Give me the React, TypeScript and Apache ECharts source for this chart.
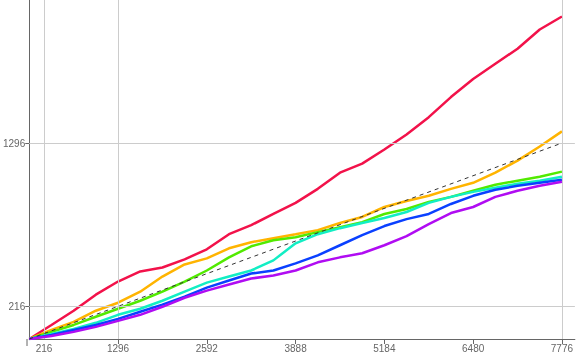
import React, { useEffect, useRef } from "react";
import * as echarts from "echarts";

const xs = [0, 324, 648, 972, 1296, 1620, 1944, 2268, 2592, 2916, 3240, 3564, 3888, 4212, 4536, 4860, 5184, 5508, 5832, 6156, 6480, 6804, 7128, 7452, 7776];

const red = [0, 93, 187, 293, 380, 447, 473, 527, 593, 693, 753, 827, 900, 993, 1100, 1160, 1253, 1353, 1467, 1600, 1720, 1820, 1920, 2047, 2133];
const orange = [0, 60, 113, 187, 240, 313, 413, 493, 533, 600, 640, 667, 693, 720, 767, 807, 873, 913, 947, 993, 1033, 1100, 1180, 1273, 1373];
const green = [0, 47, 93, 147, 200, 253, 313, 380, 453, 540, 613, 653, 673, 707, 740, 773, 827, 860, 907, 940, 980, 1020, 1047, 1073, 1107];
const cyan = [0, 33, 67, 107, 160, 200, 253, 313, 373, 413, 453, 520, 633, 693, 733, 767, 800, 840, 900, 940, 973, 1000, 1027, 1047, 1073];
const blue = [0, 27, 60, 93, 133, 180, 227, 280, 340, 387, 433, 453, 500, 553, 620, 687, 747, 793, 827, 893, 947, 987, 1013, 1033, 1053];
const purple = [0, 20, 47, 80, 120, 160, 213, 273, 320, 360, 400, 420, 453, 507, 540, 567, 620, 680, 760, 833, 873, 940, 980, 1013, 1040];

const expectedLine = [[0, 0], [7776, 1296]];

const xTickLabels = [216, 1296, 2592, 3888, 5184, 6480, 7776];
const xTickMarks = [1296, 2592, 3888, 5184, 6480, 7776];
const yTickLabels = [216, 1296];
const xGrid = [216, 1296, 7776];
const yGrid = [216, 1296];

const seriesDefs = [
  { name: "red", values: red, color: "#F2124A" },
  { name: "orange", values: orange, color: "#FFB400" },
  { name: "green", values: green, color: "#52EA00" },
  { name: "cyan", values: cyan, color: "#12EEC4" },
  { name: "blue", values: blue, color: "#0A40FF" },
  { name: "purple", values: purple, color: "#B00CF2" },
];

export default function App() {
  const ref = useRef<HTMLDivElement>(null);
  useEffect(() => {
    if (!ref.current) return;
    const chart = echarts.init(ref.current, null, { renderer: "svg" });
    const axisColor = "#666666";
    const labelStyle = {
      color: "#666666",
      fontSize: 10,
      fontFamily: "Liberation Sans, Arial, sans-serif",
      formatter: (v: number) => String(v),
    };
    const series: any[] = [
      {
        type: "line",
        name: "grid",
        data: [],
        silent: true,
        z: 1,
        markLine: {
          silent: true,
          symbol: ["none", "none"],
          label: { show: false },
          lineStyle: { color: "#cccccc", width: 1, type: "solid" },
          data: [
            ...xGrid.map((v) => ({ xAxis: v })),
            ...yGrid.map((v) => ({ yAxis: v })),
          ],
        },
      },
      ...seriesDefs.map((s, i) => ({
        type: "line",
        name: s.name,
        data: xs.map((x, j) => [x, s.values[j]]),
        showSymbol: false,
        smooth: false,
        z: 2 + i,
        lineStyle: { color: s.color, width: 2.5 },
        itemStyle: { color: s.color },
      })),
      {
        type: "line",
        name: "expected",
        data: expectedLine,
        showSymbol: false,
        z: 10,
        lineStyle: { color: "#333333", width: 1, type: [4, 4] },
      },
    ];
    chart.setOption({
      animation: false,
      grid: { left: 27, right: 0, top: 0, bottom: 17, containLabel: false },
      xAxis: {
        type: "value",
        min: 0,
        max: 7965,
        axisLine: { show: true, onZero: false, lineStyle: { color: axisColor, width: 1 } },
        axisTick: { show: true, customValues: xTickMarks, length: 5, lineStyle: { color: axisColor } },
        axisLabel: { customValues: xTickLabels, margin: 4, ...labelStyle },
        splitLine: { show: false },
      },
      yAxis: {
        type: "value",
        min: 0,
        max: 2242,
        axisLine: { show: true, onZero: false, lineStyle: { color: axisColor, width: 1 } },
        axisTick: { show: true, customValues: yTickLabels, length: 4, lineStyle: { color: axisColor } },
        axisLabel: { customValues: yTickLabels, margin: 4, ...labelStyle },
        splitLine: { show: false },
      },
      graphic: [
        {
          type: "line",
          shape: { x1: 27, y1: 339, x2: 27, y2: 346 },
          style: { stroke: axisColor, lineWidth: 1 },
        },
      ],
      series,
    });
    return () => chart.dispose();
  }, []);
  return (
    <div
      ref={ref}
      style={{ position: "fixed", left: 0, top: 0, width: 576, height: 356 }}
    />
  );
}
